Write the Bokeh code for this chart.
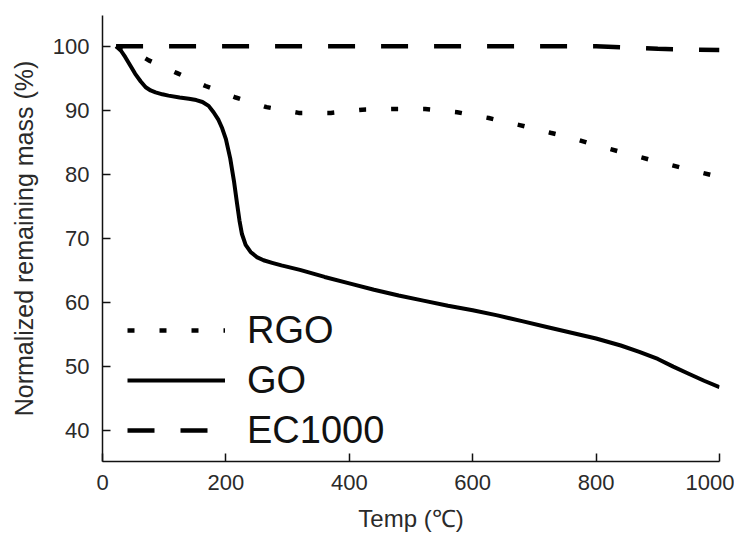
from bokeh.plotting import figure
from bokeh.models import Range1d, FixedTicker, Legend, LegendItem
from bokeh.embed import file_html
from bokeh.resources import INLINE

# --- data ---
go_temp = [22, 30, 37, 45, 53, 62, 70, 78, 86, 97, 107, 125, 140, 152, 162, 172, 180,
           188, 194, 200, 207, 213, 218, 222, 226, 232, 240, 250, 261, 275, 290, 320,
           360, 400, 440, 480, 520, 560, 600, 640, 680, 720, 760, 800, 840, 870, 900,
           925, 950, 975, 1000]
go_mass = [100, 99.3, 98.3, 97.0, 95.7, 94.5, 93.6, 93.1, 92.8, 92.5, 92.3, 92.0, 91.8,
           91.6, 91.3, 90.7, 89.7, 88.5, 87.2, 85.5, 82.5, 79.0, 75.5, 72.8, 70.7, 69.0,
           67.9, 67.1, 66.6, 66.2, 65.8, 65.1, 64.0, 63.0, 62.0, 61.1, 60.3, 59.5, 58.8,
           58.0, 57.1, 56.2, 55.3, 54.4, 53.3, 52.3, 51.2, 50.0, 48.9, 47.8, 46.8]

rgo_temp = [22, 50, 75, 121, 167, 216, 266, 318, 370, 421, 472, 523, 575, 626, 676, 726,
            753, 802, 852, 903, 953, 1000]
rgo_mass = [100, 99.2, 97.8, 95.8, 93.8, 92.0, 90.5, 89.6, 89.6, 90.1, 90.2, 90.2, 89.7,
            88.8, 87.7, 86.5, 85.9, 84.5, 83.2, 81.9, 80.7, 79.6]

ec_temp = [22, 200, 400, 600, 800, 850, 900, 1000]
ec_mass = [100, 100, 100, 100, 100, 99.8, 99.6, 99.4]

x_ticks = [0, 200, 400, 600, 800, 1000]
y_ticks = [40, 50, 60, 70, 80, 90, 100]

FONT = "Liberation Sans"

p = figure(frame_width=617, frame_height=446, width=734, height=524,
           min_border_left=102, min_border_right=15, min_border_top=15, min_border_bottom=63,
           x_range=Range1d(0, 1000), y_range=Range1d(35.2, 104.8),
           output_backend="svg", toolbar_location=None)

p.grid.visible = False
p.outline_line_color = None
p.background_fill_color = "white"
p.border_fill_color = "white"

for ax in (p.xaxis[0], p.yaxis[0]):
    ax.axis_line_color = "#111111"
    ax.axis_line_width = 1.5
    ax.major_tick_line_color = "#111111"
    ax.major_tick_line_width = 1.5
    ax.major_tick_in = 8
    ax.major_tick_out = 0
    ax.minor_tick_line_color = None
    ax.major_label_text_font = FONT
    ax.major_label_text_font_size = "22px"
    ax.major_label_text_color = "#2a2a2a"
    ax.axis_label_text_font = FONT
    ax.axis_label_text_font_style = "normal"
    ax.axis_label_text_color = "#2a2a2a"
    ax.major_label_standoff = 13

p.xaxis[0].ticker = FixedTicker(ticks=x_ticks)
p.yaxis[0].ticker = FixedTicker(ticks=y_ticks)
p.xaxis[0].axis_label = "Temp (℃)"
p.yaxis[0].axis_label = "Normalized remaining mass (%)"
p.xaxis[0].axis_label_text_font_size = "24px"
p.yaxis[0].axis_label_text_font_size = "25px"
p.xaxis[0].axis_label_standoff = 12
p.yaxis[0].axis_label_standoff = 12

r_rgo = p.line(rgo_temp, rgo_mass, line_color="black", line_width=4.5, line_dash="7 25")
r_go = p.line(go_temp, go_mass, line_color="black", line_width=4, line_join="round")
r_ec = p.line(ec_temp, ec_mass, line_color="black", line_width=4.5, line_dash="27 26")

legend = Legend(items=[LegendItem(label="RGO", renderers=[r_rgo]),
                       LegendItem(label="GO", renderers=[r_go]),
                       LegendItem(label="EC1000", renderers=[r_ec])],
                location=(25, 6), padding=0, spacing=0,
                glyph_width=98, glyph_height=50, label_height=50,
                label_standoff=22,
                label_text_font=FONT, label_text_font_size="38px",
                label_text_color="#111111",
                border_line_alpha=0, background_fill_alpha=0)
p.add_layout(legend)

open("out.html", "w").write(file_html(p, INLINE))
